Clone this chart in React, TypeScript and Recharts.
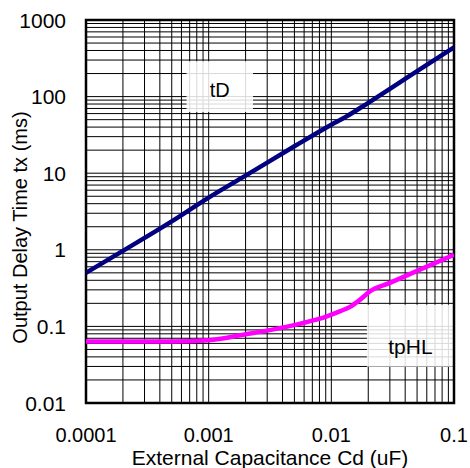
import React from 'react';
import { LineChart, Line, XAxis, YAxis, CartesianGrid, ReferenceArea, Label } from 'recharts';

const xDecades = [0.0001, 0.001, 0.01, 0.1];
const xTickLabels = ['0.0001', '0.001', '0.01', '0.1'];
const yDecades = [0.01, 0.1, 1, 10, 100, 1000];
const yTickLabels = ['0.01', '0.1', '1', '10', '100', '1000'];
const minorSteps = [1, 2, 3, 4, 5, 6, 7, 8, 9];

const tdCap = [0.0001, 0.0002, 0.0005, 0.001, 0.002, 0.005, 0.01, 0.013, 0.02, 0.05, 0.1];
const tdTime = [0.5, 0.97, 2.35, 4.8, 9.3, 22.5, 43, 54, 83, 215, 440];

const tphlCap = [0.0001, 0.0005, 0.001, 0.002, 0.003, 0.0055, 0.0092, 0.0117, 0.0142, 0.0171, 0.0206, 0.03, 0.05, 0.1];
const tphlTime = [0.0635, 0.0635, 0.066, 0.079, 0.088, 0.108, 0.135, 0.157, 0.18, 0.222, 0.286, 0.37, 0.53, 0.86];

const xTitle = 'External Capacitance Cd (uF)';
const yTitle = 'Output Delay Time tx (ms)';
const tdName = 'tD';
const tphlName = 'tpHL';

const tdData = tdCap.map((c, i) => ({ cap: c, time: tdTime[i] }));
const tphlData = tphlCap.map((c, i) => ({ cap: c, time: tphlTime[i] }));

const buildTicks = (decades: number[]) => {
  const out: number[] = [];
  decades.forEach((d, i) => {
    if (i === decades.length - 1) {
      out.push(d);
    } else {
      minorSteps.forEach((s) => out.push(d * s));
    }
  });
  return out;
};
const xTicks = buildTicks(xDecades);
const yTicks = buildTicks(yDecades);

const FONT = '"Liberation Sans", Arial, sans-serif';

const findIdx = (arr: number[], v: number) => arr.findIndex((d) => Math.abs(d - v) / d < 1e-6);

const XTick = (props: any) => {
  const { x, y, payload } = props;
  const i = findIdx(xDecades, payload.value);
  if (i < 0) return <g />;
  return (
    <text x={x} y={y + 31} textAnchor="middle" fontSize={20} fontFamily={FONT} fill="#000">
      {xTickLabels[i]}
    </text>
  );
};

const YTick = (props: any) => {
  const { x, y, payload } = props;
  const i = findIdx(yDecades, payload.value);
  if (i < 0) return <g />;
  return (
    <text x={x - 12} y={y + 7.5} textAnchor="end" fontSize={21} fontFamily={FONT} fill="#000">
      {yTickLabels[i]}
    </text>
  );
};

const YTitle = (props: any) => {
  const vb = props.viewBox || { x: 0, y: 20, width: 86, height: 383 };
  const cx = vb.x + 20;
  const cy = vb.y + vb.height / 2 + 16;
  return (
    <text
      transform={`translate(${cx},${cy}) rotate(-90)`}
      textAnchor="middle"
      dominantBaseline="central"
      fontSize={20}
      fontFamily={FONT}
      fill="#000"
    >
      {yTitle}
    </text>
  );
};

export default function App() {
  return (
    <div style={{ position: 'absolute', left: 0, top: 0, background: '#fff' }}>
      <LineChart width={470} height={468} margin={{ top: 20, right: 16, bottom: 0, left: 0 }}>
        <CartesianGrid stroke="#000" strokeWidth={1} />
        <XAxis
          dataKey="cap"
          type="number"
          scale="log"
          domain={[0.0001, 0.1]}
          ticks={xTicks}
          interval={0}
          tick={<XTick />}
          tickLine={false}
          axisLine={false}
          height={65}
          allowDataOverflow
        >
          <Label value={xTitle} position="insideBottom" offset={3} style={{ fontSize: 21, fill: '#000', fontFamily: FONT }} />
        </XAxis>
        <YAxis
          type="number"
          scale="log"
          domain={[0.01, 1000]}
          ticks={yTicks}
          interval={0}
          tick={<YTick />}
          tickLine={false}
          axisLine={false}
          width={86}
          allowDataOverflow
        >
          <Label content={<YTitle />} />
        </YAxis>
        <ReferenceArea
          x1={0.00066}
          x2={0.0023}
          y1={63}
          y2={290}
          fill="#fff"
          fillOpacity={0.85}
          stroke="none"
          label={{ value: tdName, position: 'center', fontSize: 20, fill: '#000', fontFamily: FONT, dy: 3 }}
        />
        <ReferenceArea
          x1={0.0195}
          x2={0.1}
          y1={0.0297}
          y2={0.191}
          fill="#fff"
          fillOpacity={0.85}
          stroke="none"
          label={{ value: tphlName, position: 'center', fontSize: 21, fill: '#000', fontFamily: FONT, dy: 11 }}
        />
        <ReferenceArea x1={0.0001} x2={0.1} y1={0.01} y2={1000} fill="none" stroke="#000" strokeWidth={2.5} />
        <Line data={tdData} dataKey="time" type="monotone" stroke="#000080" strokeWidth={4.5} dot={false} isAnimationActive={false} />
        <Line data={tphlData} dataKey="time" type="monotone" stroke="#ff00ff" strokeWidth={4.5} dot={false} isAnimationActive={false} />
      </LineChart>
    </div>
  );
}
